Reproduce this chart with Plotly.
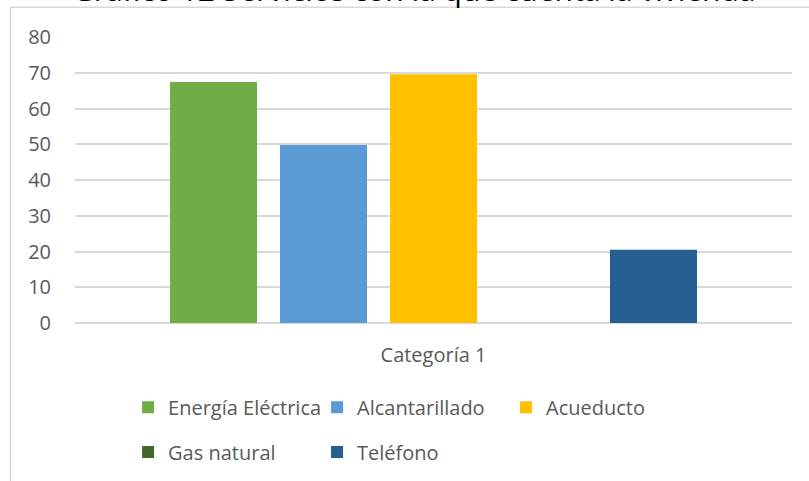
import plotly.graph_objects as go

# datos del gráfico
categorias = ["Categoría 1"]
servicios = ["Energía Eléctrica", "Alcantarillado", "Acueducto", "Gas natural", "Teléfono"]
valores = [67.4, 49.8, 69.6, 0, 20.5]
colores = ["#70AD47", "#5B9BD5", "#FFC000", "#43682B", "#255E91"]
leyendas = ["legend", "legend", "legend", "legend2", "legend2"]
titulo = "Gráfico 12 Servicios con la que cuenta la vivienda"

fig = go.Figure()
for nombre, val, col, leg in zip(servicios, valores, colores, leyendas):
    fig.add_trace(go.Bar(
        x=categorias,
        y=[val],
        name=nombre,
        marker=dict(color=col, line=dict(width=0)),
        legend=leg,
    ))

fuente = dict(family="Open Sans", size=20, color="#595959")
leg_common = dict(
    orientation="h",
    xanchor="left",
    yanchor="top",
    font=fuente,
    entrywidth=144,
    entrywidthmode="pixels",
    bgcolor="rgba(0,0,0,0)",
    itemclick=False,
)

fig.update_layout(
    width=809,
    height=481,
    margin=dict(l=75, r=17, t=37, b=158, autoexpand=False),
    paper_bgcolor="white",
    plot_bgcolor="white",
    barmode="group",
    bargap=0.233,
    bargroupgap=0.209,
    font=fuente,
    showlegend=True,
    legend=dict(x=0.074, y=-0.226, **leg_common),
    legend2=dict(x=0.074, y=-0.383, **leg_common),
    xaxis=dict(
        showgrid=False,
        showline=False,
        ticks="",
        ticklabelstandoff=18,
        tickfont=fuente,
    ),
    yaxis=dict(
        range=[0, 80],
        dtick=10,
        showgrid=True,
        gridcolor="#d9d9d9",
        gridwidth=1.5,
        zeroline=True,
        zerolinecolor="#d9d9d9",
        zerolinewidth=1.5,
        showline=False,
        ticks="",
        ticklabelstandoff=23,
        tickfont=fuente,
    ),
    annotations=[
        dict(
            text=titulo,
            xref="paper", yref="paper",
            x=0.473, y=1.086,
            xanchor="center", yanchor="bottom",
            showarrow=False,
            font=dict(family="Open Sans", size=30, color="#000000"),
        )
    ],
    shapes=[
        dict(
            type="rect",
            xref="paper", yref="paper",
            x0=-0.09, x1=1.1, y0=-0.7, y1=1.104,
            line=dict(color="#d9d9d9", width=1.5),
            fillcolor="rgba(0,0,0,0)",
            layer="below",
        )
    ],
)

# quitar el margen del body para que la figura quede en la esquina
fig.write_html(
    "out.html",
    config={"displayModeBar": False},
    post_script="document.body.style.margin='0';",
)
